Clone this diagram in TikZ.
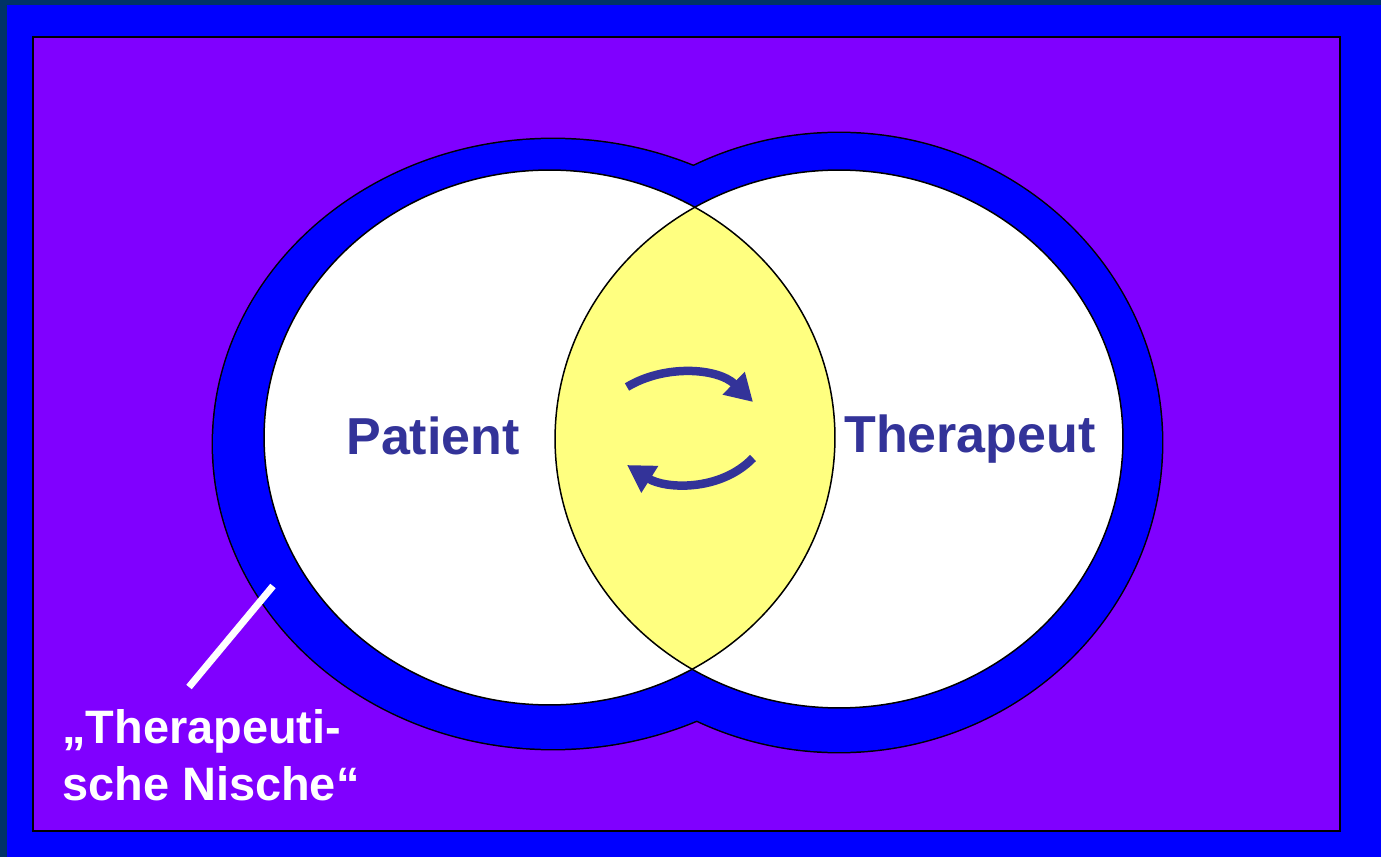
\documentclass[tikz,border=0pt]{standalone}
\usepackage{fontspec}
\setmainfont{Liberation Sans}
\usetikzlibrary{arrows.meta}
\definecolor{nischeteal}{RGB}{0,51,102}
\definecolor{nischeblue}{RGB}{0,0,255}
\definecolor{nischepurple}{RGB}{128,0,255}
\definecolor{nischeyellow}{RGB}{255,255,128}
\definecolor{nischenavy}{RGB}{51,51,153}

\begin{document}
\begin{tikzpicture}[x=0.02cm, y=-0.02cm,
  person/.style={font=\bfseries\fontsize{29.6}{34}\selectfont, text=nischenavy, inner sep=0pt},
  note/.style={font=\bfseries\fontsize{26.7}{32.4}\selectfont, text=white, inner sep=0pt, align=left},
  swap/.style={-{Triangle[length=0.54cm, width=0.6cm]}, line width=0.17cm, draw=nischenavy},
  rim/.style={draw=black, line width=0.06cm},
  edge/.style={draw=black, line width=0.03cm}
]
\useasboundingbox (0,0) rectangle (1381,857);

% frame
\fill[nischeteal] (0,0) rectangle (1381,857);
\fill[nischeblue] (7,5) rectangle (1381,857);
\filldraw[fill=nischepurple, draw=black, line width=0.04cm] (33,37) rectangle (1340,831);

% centres
\coordinate (patOuter) at (553,444);
\coordinate (therOuter) at (839,442.5);
\coordinate (patInner) at (549.5,437.5);
\coordinate (therInner) at (839,439);

% blue rings
\draw[rim] (patOuter) ellipse [x radius=6.8cm, y radius=6.1cm];
\draw[rim] (therOuter) ellipse [x radius=6.46cm, y radius=6.19cm];
\fill[nischeblue] (patOuter) ellipse [x radius=6.8cm, y radius=6.1cm];
\fill[nischeblue] (therOuter) ellipse [x radius=6.46cm, y radius=6.19cm];

% white discs and the overlap
\fill[white] (patInner) ellipse [x radius=5.71cm, y radius=5.35cm];
\fill[white] (therInner) ellipse [x radius=5.68cm, y radius=5.38cm];
\begin{scope}
  \clip (patInner) ellipse [x radius=5.71cm, y radius=5.35cm];
  \fill[nischeyellow] (therInner) ellipse [x radius=5.68cm, y radius=5.38cm];
\end{scope}
\draw[edge] (patInner) ellipse [x radius=5.71cm, y radius=5.35cm];
\draw[edge] (therInner) ellipse [x radius=5.68cm, y radius=5.38cm];

% labels
\node[person, anchor=base west] (patient) at (346,455) {Patient};
\node[person, anchor=base east] (therapeut) at (1096,453) {Therapeut};

% exchange arrows
\coordinate (upStart) at (627,387);
\coordinate (upEnd) at (753,402);
\coordinate (lowStart) at (753,458);
\coordinate (lowEnd) at (627,465);
\draw[swap] (upStart) .. controls (665,364) and (718,368) .. (upEnd);
\draw[swap] (lowStart) .. controls (720,492) and (665,489) .. (lowEnd);

% niche pointer
\node[note, anchor=base west] (nische) at (62,800) {„Therapeuti-\\sche Nische“};
\coordinate (nischeTip) at (273,586);
\coordinate (nischeFoot) at (189,687);
\draw[white, line width=0.14cm] (nischeTip) -- (nischeFoot);

\end{tikzpicture}
\end{document}
